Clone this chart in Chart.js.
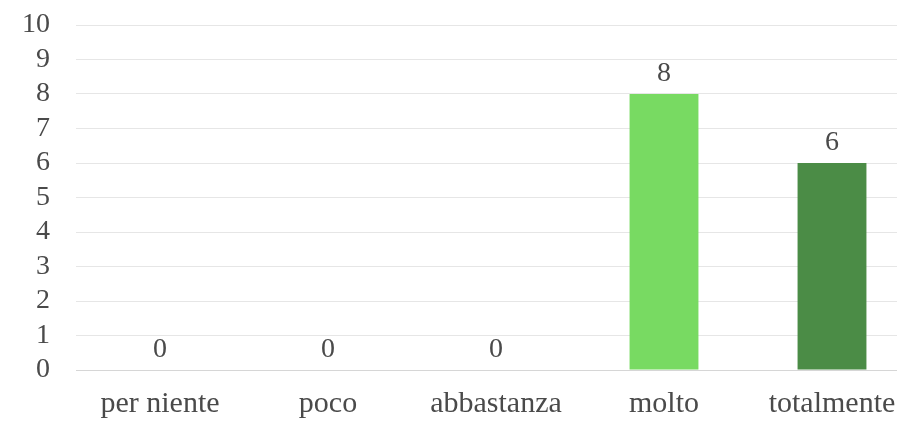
<!DOCTYPE html>
<html>
<head>
<meta charset="utf-8">
<script src="https://cdn.jsdelivr.net/npm/chart.js@4.4.0/dist/chart.umd.min.js"></script>
<style>
    html, body { margin: 0; padding: 0; background: #fff; overflow: hidden; }
    #wrap { width: 925px; height: 421px; }
</style>
</head>
<body>
<div id="wrap"><canvas id="grafico"></canvas></div>
<script>
// dati
const categorie = ['per niente', 'poco', 'abbastanza', 'molto', 'totalmente'];
const valori = [0, 0, 0, 8, 6];
const coloriBarre = ['#78da62', '#78da62', '#78da62', '#78da62', '#4b8c46'];
const tickY = [0, 1, 2, 3, 4, 5, 6, 7, 8, 9, 10];

const grigioTesto = '#4a4a4a';
const fontSerif = 'Liberation Serif, Times New Roman, serif';

// etichette dei valori sopra le barre
const etichetteValori = {
    id: 'etichetteValori',
    afterDatasetsDraw(chart) {
        const ctx = chart.ctx;
        const meta = chart.getDatasetMeta(0);
        ctx.save();
        ctx.font = '28px ' + fontSerif;
        ctx.fillStyle = grigioTesto;
        ctx.textAlign = 'center';
        ctx.textBaseline = 'middle';
        meta.data.forEach((bar, i) => {
            ctx.fillText(String(valori[i]), bar.x, bar.y - 20);
        });
        ctx.restore();
    }
};

const ctx = document.getElementById('grafico').getContext('2d');
new Chart(ctx, {
    type: 'bar',
    data: {
        labels: categorie,
        datasets: [{
            data: valori,
            backgroundColor: coloriBarre,
            borderWidth: 0,
            barPercentage: 0.41,
            categoryPercentage: 1
        }]
    },
    options: {
        responsive: true,
        maintainAspectRatio: false,
        animation: false,
        layout: { padding: { top: 25, right: 9, left: 0, bottom: 0 } },
        plugins: {
            legend: { display: false },
            tooltip: { enabled: false }
        },
        scales: {
            x: {
                grid: { display: false, drawTicks: false },
                border: { display: false },
                ticks: {
                    color: grigioTesto,
                    font: { family: fontSerif, size: 30 },
                    padding: 16,
                    maxRotation: 0
                },
                afterFit(scale) { scale.height = 51; }
            },
            y: {
                min: 0,
                max: 10,
                afterBuildTicks(scale) {
                    scale.ticks = tickY.map(v => ({ value: v }));
                },
                grid: {
                    drawTicks: false,
                    color: c => c.tick && c.tick.value === 0 ? '#d6d6d6' : '#e6e6e6',
                    lineWidth: 1
                },
                border: { display: false },
                ticks: {
                    color: grigioTesto,
                    font: { family: fontSerif, size: 28 },
                    padding: 26,
                    autoSkip: false
                },
                afterFit(scale) {
                    scale.width = 76;
                    scale.paddingTop = 0;
                    scale.paddingBottom = 0;
                }
            }
        }
    },
    plugins: [etichetteValori]
});
</script>
</body>
</html>
